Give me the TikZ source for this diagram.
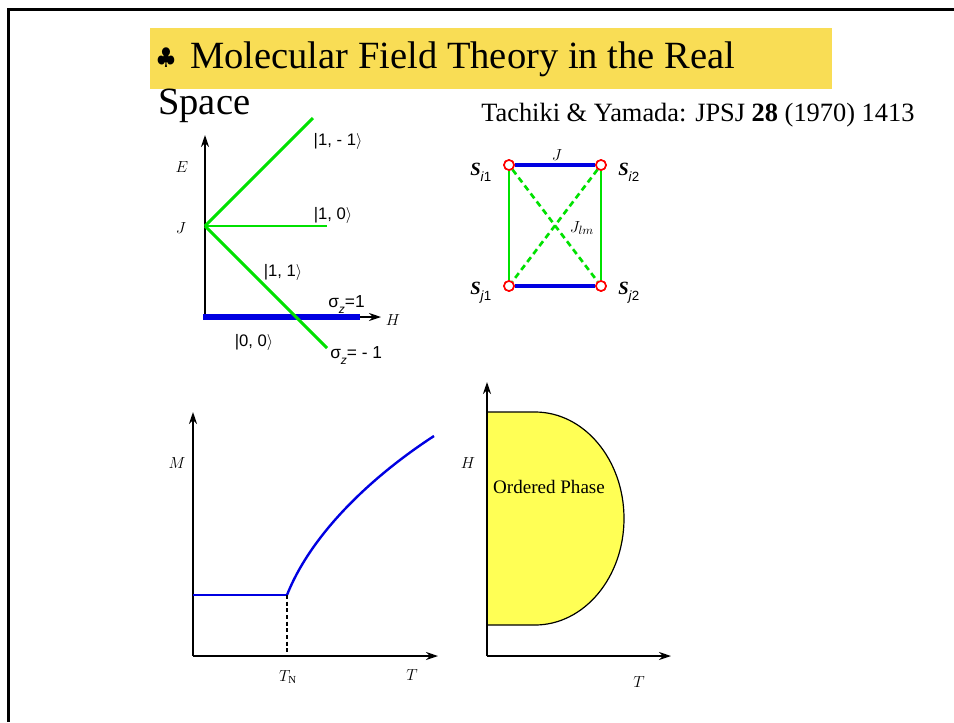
\documentclass[tikz,border=0pt]{standalone}
\usepackage{fontspec}
\setmainfont{Liberation Serif}
\newfontfamily\lsans{Liberation Sans}
\usetikzlibrary{arrows.meta}
\definecolor{titleyellow}{RGB}{249,221,85}
\definecolor{phaseyellow}{RGB}{255,255,85}
\definecolor{lgreen}{RGB}{0,225,0}
\definecolor{lblue}{RGB}{0,0,225}
\newcommand{\spinsub}[1]{\raisebox{-4.5pt}{\lsans\fontsize{10}{11}\selectfont #1}}
\newcommand{\sigz}{σ\raisebox{-4.5pt}{\fontsize{9}{10}\selectfont\textit{z}}}
\begin{document}
\begin{tikzpicture}[x=0.75pt,y=-0.75pt,
  axis/.style={line width=1.1pt,-{Stealth[length=9pt,width=6pt]}},
  grnline/.style={draw=lgreen,line width=2.2pt},
  lvl/.style={font=\lsans\fontsize{12.5}{14}\selectfont,inner sep=0pt},
  sig/.style={font=\lsans\fontsize{13}{15}\selectfont,inner sep=0pt},
  mlab/.style={font=\fontsize{11.5}{13}\selectfont,inner sep=0pt},
  spin/.style={circle,draw=red,fill=white,line width=1.2pt,minimum size=7.5pt,inner sep=0pt},
  spinlab/.style={font=\fontsize{14}{16}\selectfont,inner sep=0pt},
  titlefont/.style={font=\fontsize{28.9}{34}\selectfont,inner sep=0pt}]
\useasboundingbox (0,0) rectangle (954,722);
% frame
\draw[line width=2.25pt] (954,9.5) -- (8.5,9.5) -- (8.5,722);
% title
\fill[titleyellow] (150,28) rectangle (832,89);
\node[font=\fontsize{19}{22}\selectfont,inner sep=0pt] (club) at (166,58) {$\clubsuit$};
\node[titlefont,anchor=base west] (title) at (190,68) {Molecular Field Theory in the Real};
\node[titlefont,anchor=base west] (space) at (158,114) {Space};
\node[font=\fontsize{19.8}{23}\selectfont,inner sep=0pt,anchor=base west] (ref) at (481,121) {Tachiki \& Yamada: JPSJ \textbf{28} (1970) 1413};
% ---- level diagram
\coordinate (Eo) at (205,317);
\coordinate (Etip) at (205,135);
\coordinate (Htip) at (381,317);
\coordinate (Jp) at (205,226);
\coordinate (Lup) at (313,118);
\coordinate (Lmid) at (327,226);
\coordinate (Ldn) at (327,348);
\coordinate (Bl) at (203,317);
\coordinate (Br) at (360,317);
\draw[axis] (Eo) -- (Etip);
\draw[axis] (Eo) -- (Htip);
\draw[draw=lblue,line width=3.8pt] (Bl) -- (Br);
\draw[grnline] (Jp) -- (Lup);
\draw[grnline] (Jp) -- (Lmid);
\draw[grnline] (Jp) -- (Ldn);
\node[mlab] (Elab) at (182,167) {$E$};
\node[mlab] (Jlab) at (181,228) {$J$};
\node[mlab] (Hlab) at (393,320) {$H$};
\node[lvl] (s1m) at (338,141) {|1, - 1$\rangle$};
\node[lvl] (s10) at (333,215) {|1, 0$\rangle$};
\node[lvl] (s11) at (283,272) {|1, 1$\rangle$};
\node[lvl] (s00) at (254,342) {|0, 0$\rangle$};
\node[sig,anchor=base west] (sz1) at (328,307) {\sigz=1};
\node[sig,anchor=base west] (szm) at (330,358) {\sigz= - 1};
% ---- spin diagram
\node[spin] (si1) at (509,165) {};
\node[spin] (si2) at (601,165) {};
\node[spin] (sj1) at (509,286) {};
\node[spin] (sj2) at (601,286) {};
\draw[lblue,line width=3pt] (si1) -- (si2);
\draw[lblue,line width=3pt] (sj1) -- (sj2);
\draw[lgreen,line width=1.7pt] (si1) -- (sj1);
\draw[lgreen,line width=1.7pt] (si2) -- (sj2);
\draw[lgreen,line width=2pt,dash pattern=on 4.5pt off 3pt] (si1) -- (sj2);
\draw[lgreen,line width=2pt,dash pattern=on 4.5pt off 3pt] (si2) -- (sj1);
\node[spin] at (si1) {};
\node[spin] at (si2) {};
\node[spin] at (sj1) {};
\node[spin] at (sj2) {};
\node[mlab] (Jtop) at (557,155) {$J$};
\node[font=\fontsize{12.5}{14}\selectfont,inner sep=0pt] (Jlm) at (582,228) {$J_{lm}$};
\node[spinlab,anchor=base west] (Li1) at (470,175) {\textbf{\textit{S}}\spinsub{\textit{i}1}};
\node[spinlab,anchor=base west] (Li2) at (618,175) {\textbf{\textit{S}}\spinsub{\textit{i}2}};
\node[spinlab,anchor=base west] (Lj1) at (470,294) {\textbf{\textit{S}}\spinsub{\textit{j}1}};
\node[spinlab,anchor=base west] (Lj2) at (618,294) {\textbf{\textit{S}}\spinsub{\textit{j}2}};
% ---- M-T plot
\coordinate (Mo) at (193,656);
\coordinate (Mtip) at (193,412);
\coordinate (Ttip) at (438,656);
\coordinate (Mk) at (287,595);
\coordinate (Mb) at (287,656);
\coordinate (Ml) at (193,595);
\coordinate (Mend) at (434,436);
\draw[axis] (Mo) -- (Mtip);
\draw[axis] (Mo) -- (Ttip);
\draw[lblue,line width=1.8pt] (Ml) -- (Mk);
\draw[lblue,line width=1.8pt] (Mk) .. controls (312,532) and (374,475) .. (Mend);
\draw[line width=1.1pt,dash pattern=on 3pt off 2pt] (Mk) -- (Mb);
\node[mlab] (Mlab) at (177,463) {$M$};
\node[mlab] (TNlab) at (288,677) {$T_{\mathrm{N}}$};
\node[mlab] (Tlab1) at (412,675) {$T$};
% ---- H-T phase diagram
\coordinate (Po) at (487,656);
\coordinate (Ptip) at (487,382);
\coordinate (PTtip) at (671,656);
\fill[phaseyellow] (487,412) -- (535,412) arc[start angle=-90,end angle=90,x radius=89,y radius=106.5] -- (487,625) -- cycle;
\draw[line width=0.9pt] (487,412) -- (535,412) arc[start angle=-90,end angle=90,x radius=89,y radius=106.5] -- (487,625);
\draw[axis] (Po) -- (Ptip);
\draw[axis] (Po) -- (PTtip);
\node[font=\fontsize{14.3}{16}\selectfont,inner sep=0pt] (ord) at (549,487) {Ordered Phase};
\node[mlab] (Hlab2) at (468,463) {$H$};
\node[mlab] (Tlab2) at (639,682) {$T$};
\end{tikzpicture}
\end{document}
